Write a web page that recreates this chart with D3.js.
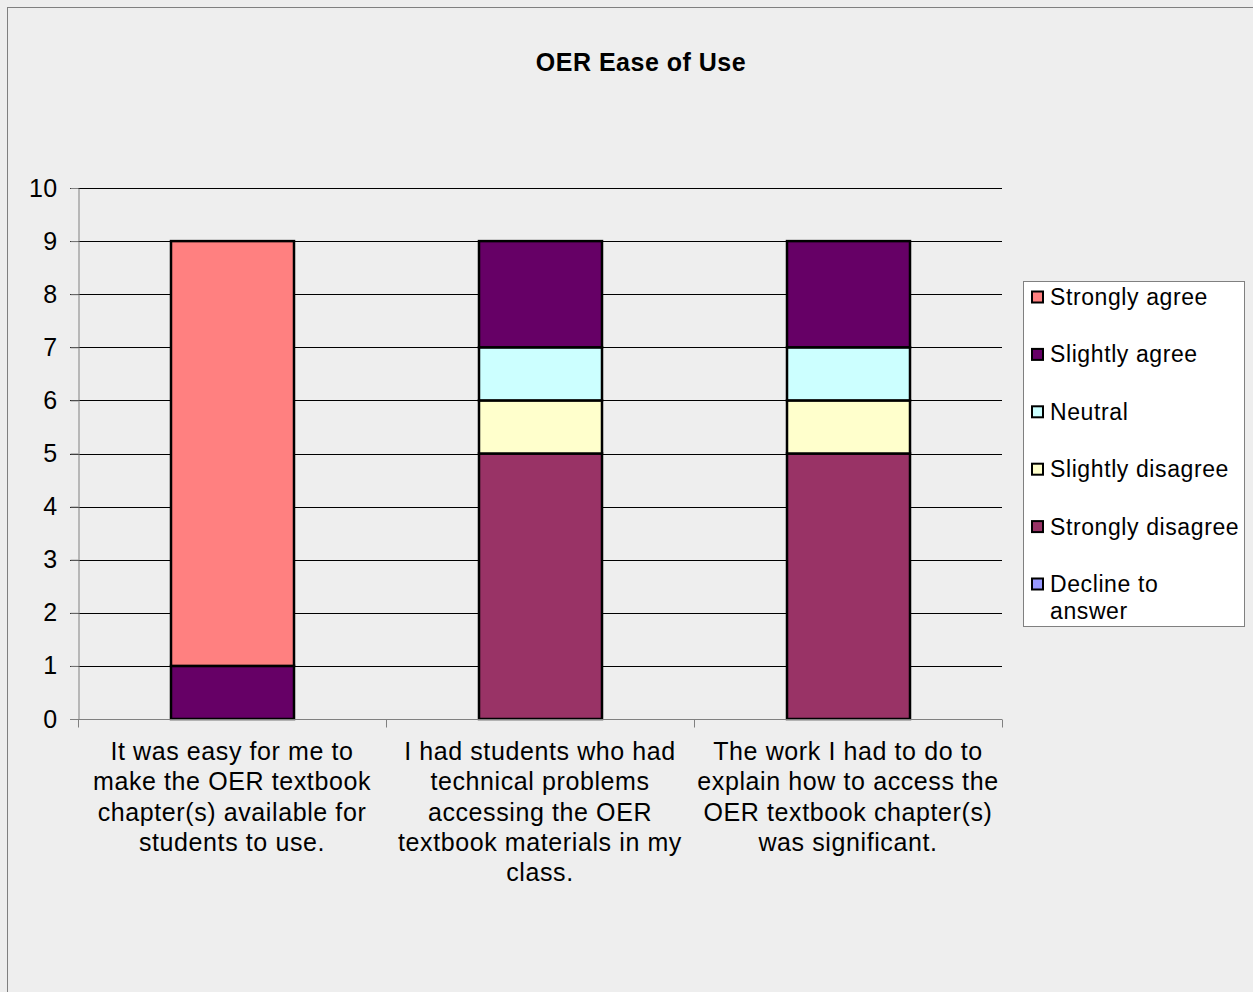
<!DOCTYPE html>
<html>
<head>
<meta charset="utf-8">
<script src="https://cdn.jsdelivr.net/npm/d3@7"></script>
<style>
  html, body { margin: 0; padding: 0; background: #eeeeee; }
  svg { display: block; font-family: "Liberation Sans", Arial, sans-serif; }
</style>
</head>
<body>
<script>
// ---- data ----
const title = "OER Ease of Use";
const categories = [
  "It was easy for me to\nmake the OER textbook\nchapter(s) available for\nstudents to use.",
  "I had students who had\ntechnical problems\naccessing the OER\ntextbook materials in my\nclass.",
  "The work I had to do to\nexplain how to access the\nOER textbook chapter(s)\nwas significant."
];
// series in stacking order (bottom to top)
const seriesNames = ["Decline to answer", "Strongly disagree", "Slightly disagree", "Neutral", "Slightly agree", "Strongly agree"];
const seriesColors = ["#9999FF", "#993366", "#FFFFCC", "#CCFFFF", "#660066", "#FF8080"];
const declineToAnswer   = [0, 0, 0];
const stronglyDisagree  = [0, 5, 5];
const slightlyDisagree  = [0, 1, 1];
const neutral           = [0, 1, 1];
const slightlyAgree     = [1, 2, 2];
const stronglyAgree     = [8, 0, 0];
const yTicks = [0, 1, 2, 3, 4, 5, 6, 7, 8, 9, 10];
// legend order (top to bottom)
const legendOrder = ["Strongly agree", "Slightly agree", "Neutral", "Slightly disagree", "Strongly disagree", "Decline to answer"];

const seriesValues = [declineToAnswer, stronglyDisagree, slightlyDisagree, neutral, slightlyAgree, stronglyAgree];
const table = categories.map((c, i) => {
  const row = { category: c };
  seriesNames.forEach((s, k) => row[s] = seriesValues[k][i]);
  return row;
});

// ---- layout ----
const W = 1253, H = 992;
const plot = { left: 78, right: 1002, top: 188, bottom: 719 };

const svg = d3.select("body").append("svg").attr("width", W).attr("height", H);

svg.append("rect").attr("x", 0).attr("y", 0).attr("width", W).attr("height", H).attr("fill", "#eeeeee");
svg.append("rect").attr("x", 7.5).attr("y", 7.5).attr("width", W + 20).attr("height", H + 20)
  .attr("fill", "#eeeeee").attr("stroke", "#808080").attr("stroke-width", 1);

svg.append("text").attr("x", 641).attr("y", 71).attr("text-anchor", "middle")
  .attr("font-size", 25).attr("font-weight", "bold").attr("letter-spacing", 0.5)
  .attr("fill", "#000").text(title);

const x = d3.scaleBand().domain(categories).range([plot.left, plot.right]).padding(0);
const y = d3.scaleLinear().domain([0, 10]).range([plot.bottom, plot.top]);
const color = d3.scaleOrdinal().domain(seriesNames).range(seriesColors);

// gridlines
svg.append("g").selectAll("line").data(yTicks.filter(t => t > 0)).join("line")
  .attr("x1", plot.left - 8).attr("x2", plot.right)
  .attr("y1", d => Math.round(y(d)) + 0.5).attr("y2", d => Math.round(y(d)) + 0.5)
  .attr("stroke", "#000").attr("stroke-width", 1);

// y axis
const yAxis = svg.append("g").attr("transform", `translate(${plot.left + 0.5},0)`)
  .call(d3.axisLeft(y).tickValues(yTicks).tickSize(8).tickPadding(13).tickSizeOuter(0));
yAxis.select(".domain").attr("stroke", "#808080");
yAxis.selectAll(".tick line").attr("stroke", "#808080");
yAxis.selectAll(".tick text").attr("font-size", 25).attr("letter-spacing", 0.3)
  .attr("fill", "#000").attr("font-family", "Liberation Sans, Arial, sans-serif");

// bars
const stack = d3.stack().keys(seriesNames);
const stacked = stack(table);
const barW = x.bandwidth() * 0.4;
svg.append("g").selectAll("g").data(stacked).join("g")
  .attr("fill", d => color(d.key))
  .selectAll("rect").data(d => d.filter(p => p[1] - p[0] > 0)).join("rect")
  .attr("x", d => Math.round(x(d.data.category) + (x.bandwidth() - barW) / 2) + 1)
  .attr("width", Math.round(barW))
  .attr("y", d => y(d[1]))
  .attr("height", d => y(d[0]) - y(d[1]))
  .attr("stroke", "#000").attr("stroke-width", 2.5);

// x axis
const xAxisG = svg.append("g").attr("transform", `translate(0,${plot.bottom + 0.5})`);
xAxisG.append("line").attr("x1", plot.left - 8).attr("x2", plot.right)
  .attr("stroke", "#808080").attr("stroke-width", 1);
const boundaries = categories.map(c => x(c)).concat([plot.right]);
xAxisG.selectAll("line.tk").data(boundaries).join("line").attr("class", "tk")
  .attr("x1", d => Math.round(d) + 0.5).attr("x2", d => Math.round(d) + 0.5)
  .attr("y1", 0).attr("y2", 8).attr("stroke", "#808080");

// category labels
const labels = svg.append("g");
categories.forEach(c => {
  const lines = c.split("\n");
  const t = labels.append("text").attr("text-anchor", "middle")
    .attr("font-size", 25).attr("letter-spacing", 0.6).attr("fill", "#000");
  lines.forEach((ln, i) => {
    t.append("tspan").attr("x", x(c) + x.bandwidth() / 2).attr("y", 760 + i * 30.3).text(ln);
  });
});

// legend
const lg = svg.append("g");
lg.append("rect").attr("x", 1023.5).attr("y", 281.5).attr("width", 221).attr("height", 345)
  .attr("fill", "#fff").attr("stroke", "#808080").attr("stroke-width", 1);
legendOrder.forEach((name, i) => {
  const cy = 297 + i * 57.4;
  lg.append("rect").attr("x", 1032).attr("y", cy - 5.5).attr("width", 11).attr("height", 11)
    .attr("fill", color(name)).attr("stroke", "#000").attr("stroke-width", 2);
  const words = name === "Decline to answer" ? ["Decline to", "answer"] : [name];
  const t = lg.append("text").attr("font-size", 23).attr("letter-spacing", 0.6).attr("fill", "#000");
  words.forEach((w, k) => {
    t.append("tspan").attr("x", 1050).attr("y", cy + 8 + k * 27).text(w);
  });
});
</script>
</body>
</html>
